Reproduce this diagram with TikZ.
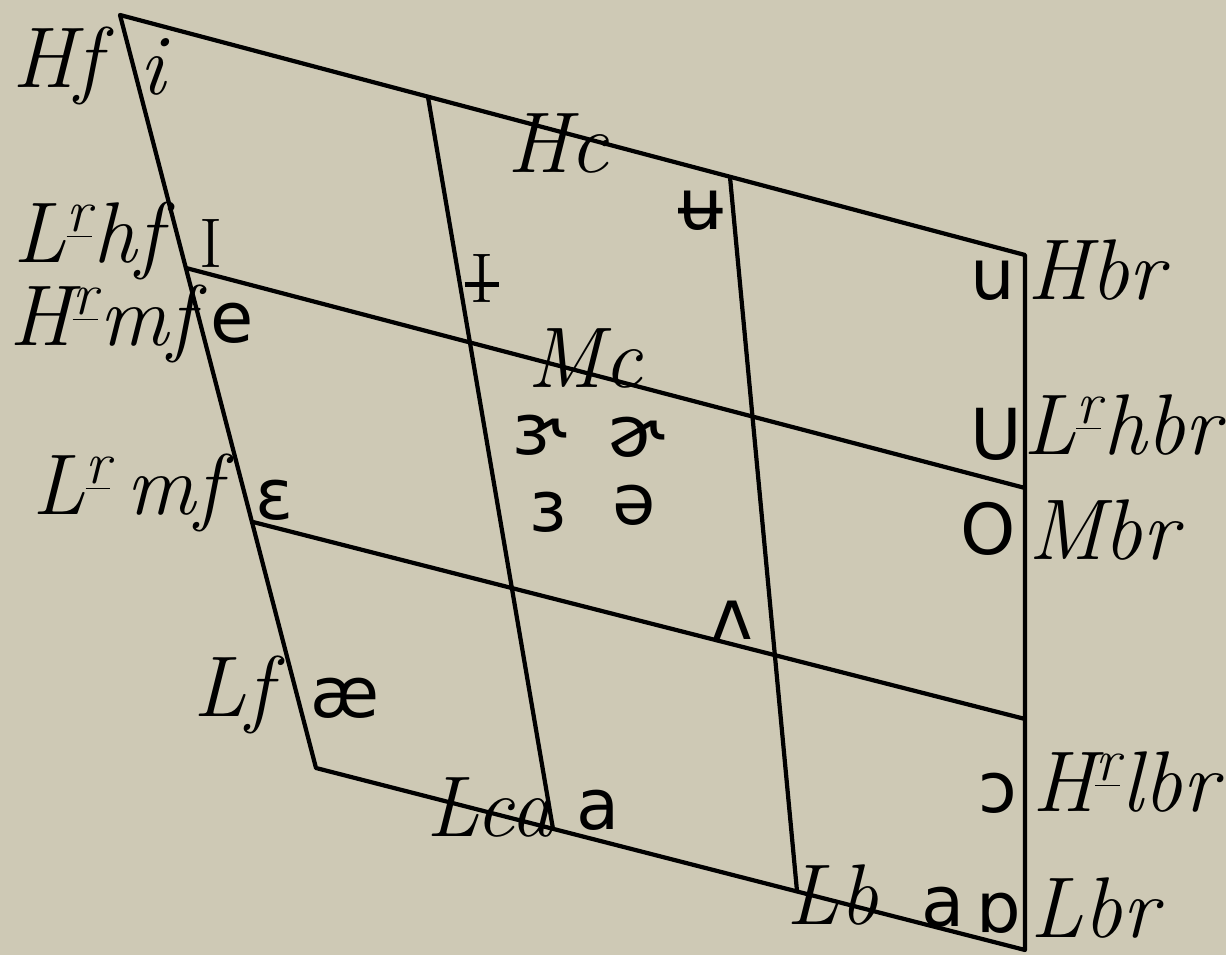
\documentclass[tikz,border=0pt]{standalone}
\usepackage{fontspec}
\newfontfamily\ipa{DejaVu Sans}
\definecolor{paper}{RGB}{206,201,181}
\newcommand{\supr}{\textsuperscript{\underline{r}}}
\newcommand{\barI}{\setbox0\hbox{I}\rlap{I}\hbox to \wd0{\hss\rule[0.33\ht0]{1.5\wd0}{0.07em}\hss}}
\begin{document}
\begin{tikzpicture}[x=0.01cm,y=-0.01cm,
  grid/.style={line width=1.2pt, line join=round},
  lab/.style={anchor=base, inner sep=0pt, font=\fontsize{24.5}{28}\selectfont\itshape},
  sym/.style={anchor=base, inner sep=0pt, font=\fontsize{20}{24}\selectfont\ipa},
  rom/.style={anchor=base, inner sep=0pt, font=\fontsize{20}{24}\selectfont},
]
\fill[paper] (0,0) rectangle (1226,955);
\useasboundingbox (0,0) rectangle (1226,955);
% corners and grid points
\coordinate (TL) at (120,15);
\coordinate (TR) at (1025,255);
\coordinate (BR) at (1025,950);
\coordinate (BL) at (316,768);
\coordinate (A) at (186,268);
\coordinate (B) at (1025,488);
\coordinate (C) at (253,522);
\coordinate (D) at (1025,719);
\coordinate (V1t) at (428,97);
\coordinate (V1b) at (553,829);
\coordinate (V2t) at (730,177);
\coordinate (V2b) at (797,891);
\draw[grid] (TL) -- (TR) -- (BR) -- (BL) -- cycle;
\draw[grid] (A) -- (B);
\draw[grid] (C) -- (D);
\draw[grid] (V1t) -- (V1b);
\draw[grid] (V2t) -- (V2b);
% labels
\node[lab] (hf) at (57,88) {Hf};
\node[lab] (i) at (152,95) {i};
\node[lab] (hc) at (558,173) {Hc};
\node[sym] (ubar) at (701,230) {ʉ};
\node[rom] (ibar) at (482,303) {\barI};
\node[lab] (lhf) at (88,263) {L\supr hf};
\node[rom] (ismall) at (211,268) {I};
\node[lab] (hmf) at (102,346) {H\supr mf};
\node[sym] (e) at (232,343) {e};
\node[lab] (mc) at (585,388) {Mc};
\node[sym] (er) at (540,455) {ɝ};
\node[sym] (schr) at (636,457) {ɚ};
\node[sym] (eps3) at (548,532) {ɜ};
\node[sym] (schwa) at (634,525) {ə};
\node[sym] (wedge) at (732,640) {ʌ};
\node[lab] (lmf) at (127,515) {L\supr\,mf};
\node[sym] (eps) at (275,520) {ɛ};
\node[lab] (lf) at (233,717) {Lf};
\node[sym] (ae) at (345,718) {æ};
\node[lab] (lca) at (490,837) {Lca};
\node[sym] (a1) at (598,830) {a};
\node[lab] (lb) at (832,925) {Lb};
\node[sym] (a2) at (943,927) {a};
\node[sym] (turna) at (999,933) {ɒ};
\node[lab] (lbr) at (1094,938) {Lbr};
\node[sym] (oo) at (998,813) {ɔ};
\node[lab] (hlbr) at (1125,812) {H\supr lbr};
\node[lab] (mbr) at (1103,560) {Mbr};
\node[sym] (o) at (988,555) {O};
\node[sym] (usmall) at (996,460) {U};
\node[lab] (lhbr) at (1122,455) {L\supr hbr};
\node[sym] (u) at (993,300) {u};
\node[lab] (hbr) at (1096,300) {Hbr};
\end{tikzpicture}
\end{document}
